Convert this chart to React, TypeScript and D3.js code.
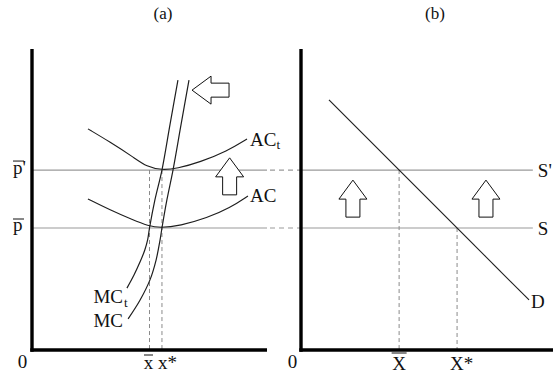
import React from 'react';
import * as d3 from 'd3';

const W = 553;
const H = 374;

// Price levels on the vertical axis: p̄ and p̄'
const priceLevels = [4.0, 5.9];

// Panel (a): average cost curves (before and after the tax)
const acX = [2.38, 3.32, 4.3, 4.94, 5.45, 6.3, 7.45, 8.43, 9.19];
const acY = [4.95, 4.59, 4.26, 4.07, 4.0, 4.07, 4.33, 4.66, 5.05];
const actX = [2.38, 3.32, 4.3, 4.89, 5.53, 6.17, 7.15, 8.3, 9.15];
const actY = [7.25, 6.82, 6.33, 6.0, 5.9, 5.95, 6.16, 6.52, 6.92];

// Panel (a): marginal cost curves
const mcX = [4.09, 4.6, 5.02, 5.28, 5.45, 5.53, 5.74, 6.0, 6.34, 6.68];
const mcY = [1.02, 1.64, 2.3, 2.95, 3.61, 4.0, 4.92, 5.9, 7.38, 8.85];
const mctX = [4.04, 4.34, 4.6, 4.8, 4.92, 5.0, 5.23, 5.53, 5.87, 6.21];
const mctY = [2.03, 2.46, 2.89, 3.28, 3.61, 4.0, 4.92, 5.9, 7.38, 8.85];

// Panel (a): firm output levels x̄ and x*
const firmOutput = [5.0, 5.53];

// Panel (b): market demand line endpoints
const demandX = [1.11, 9.05];
const demandY = [8.2, 1.64];

// Shift arrows: tip positions (panel, x, y, direction)
const arrowPanel = ['a', 'a', 'b', 'b'];
const arrowX = [6.81, 8.41, 2.06, 7.34];
const arrowY = [8.52, 6.3, 5.57, 5.57];
const arrowDir = ['left', 'up', 'up', 'up'];

const FONT = "'Liberation Serif', 'Times New Roman', serif";

const y = d3.scaleLinear().domain([0, 10]).range([350, 45]);
const xA = d3.scaleLinear().domain([0, 10]).range([32, 267]);
const xB = d3.scaleLinear().domain([0, 10]).range([301, 553]);

const zip = (xs: number[], ys: number[]) => xs.map((v, i) => [v, ys[i]] as [number, number]);

function arrowPath(tx: number, ty: number, dir: string) {
  const head = 19;
  const hw = 14;
  const sw = 7;
  const len = 37;
  // outline for an arrow pointing up, rotated when it points left
  const pts: [number, number][] = [
    [0, 0],
    [hw, head],
    [sw, head],
    [sw, len],
    [-sw, len],
    [-sw, head],
    [-hw, head],
  ];
  const rot = pts.map(([a, b]) => (dir === 'left' ? [b, -a] : [a, b]));
  return 'M' + rot.map(([a, b]) => `${tx + a},${ty + b}`).join('L') + 'Z';
}

export default function App() {
  const smoothA = d3
    .line<[number, number]>()
    .x((d) => xA(d[0]))
    .y((d) => y(d[1]))
    .curve(d3.curveBasis);
  const lineA = d3
    .line<[number, number]>()
    .x((d) => xA(d[0]))
    .y((d) => y(d[1]))
    .curve(d3.curveCatmullRom.alpha(0.5));

  const demand = zip(demandX, demandY);
  const slope = (demandY[1] - demandY[0]) / (demandX[1] - demandX[0]);
  // market quantities where each supply level meets demand
  const marketQ = priceLevels.map((p) => demandX[0] + (p - demandY[0]) / slope);
  const [qStar, qBar] = marketQ;

  const axisTop = y(9.87);
  const curveColor = '#1e1e1e';
  const gray = '#9a9a9a';
  const dashGray = '#8a8a8a';
  const txt = '#111';

  const [pBar, pPrime] = priceLevels;

  return (
    <svg
      width={W}
      height={H}
      style={{ position: 'absolute', left: 0, top: 0, background: '#fff' }}
      fontFamily={FONT}
    >
      <rect width={W} height={H} fill="#fff" />

      {/* panel titles */}
      <text x={163} y={19} fontSize={17} textAnchor="middle" fill={txt}>(a)</text>
      <text x={435} y={19} fontSize={17} textAnchor="middle" fill={txt}>(b)</text>

      {/* price levels: solid across both panels, dashed in the gap */}
      {priceLevels.map((p, i) => (
        <g key={i}>
          <line x1={xA(0)} x2={xA(10)} y1={y(p)} y2={y(p)} stroke={gray} strokeWidth={1.2} />
          <line x1={xA(10)} x2={xB(0)} y1={y(p)} y2={y(p)} stroke={gray} strokeWidth={1.2} strokeDasharray="5,4" strokeDashoffset={-3} />
          <line x1={xB(0)} x2={xB(9.2)} y1={y(p)} y2={y(p)} stroke={gray} strokeWidth={1.2} />
        </g>
      ))}

      {/* output dashed verticals, panel (a) */}
      {firmOutput.map((q, i) => (
        <line key={i} x1={xA(q)} x2={xA(q)} y1={y(pPrime)} y2={y(0)} stroke={dashGray} strokeWidth={1} strokeDasharray="4,3" />
      ))}

      {/* market quantity dashed verticals, panel (b) */}
      {marketQ.map((q, i) => (
        <line key={i} x1={xB(q)} x2={xB(q)} y1={y(priceLevels[i])} y2={y(0)} stroke={dashGray} strokeWidth={1} strokeDasharray="4,3" />
      ))}

      {/* cost curves */}
      <path d={smoothA(zip(acX, acY)) || ''} fill="none" stroke={curveColor} strokeWidth={1.1} />
      <path d={smoothA(zip(actX, actY)) || ''} fill="none" stroke={curveColor} strokeWidth={1.1} />
      <path d={lineA(zip(mcX, mcY)) || ''} fill="none" stroke={curveColor} strokeWidth={1.2} />
      <path d={lineA(zip(mctX, mctY)) || ''} fill="none" stroke={curveColor} strokeWidth={1.2} />

      {/* demand */}
      <line
        x1={xB(demand[0][0])}
        y1={y(demand[0][1])}
        x2={xB(demand[1][0])}
        y2={y(demand[1][1])}
        stroke={curveColor}
        strokeWidth={1.1}
      />

      {/* arrows */}
      {arrowX.map((ax, i) => {
        const sx = arrowPanel[i] === 'a' ? xA : xB;
        return (
          <path
            key={i}
            d={arrowPath(sx(ax), y(arrowY[i]), arrowDir[i])}
            fill="#fff"
            stroke="#111"
            strokeWidth={1}
          />
        );
      })}

      {/* axes */}
      <line x1={xA(0)} x2={xA(0)} y1={axisTop} y2={y(0) + 1.7} stroke="#000" strokeWidth={3.4} />
      <line x1={xA(0) - 1.7} x2={xA(10)} y1={y(0)} y2={y(0)} stroke="#000" strokeWidth={3.4} />
      <line x1={xB(0)} x2={xB(0)} y1={axisTop} y2={y(0) + 1.7} stroke="#000" strokeWidth={3.4} />
      <line x1={xB(0) - 1.7} x2={xB(10)} y1={y(0)} y2={y(0)} stroke="#000" strokeWidth={3.4} />

      {/* curve labels */}
      <g fontSize={19} fill={txt}>
        <text x={xA(acX[acX.length - 1]) + 2} y={202}>AC</text>
        <text x={xA(actX[actX.length - 1]) + 3} y={146}>
          AC<tspan fontSize={13} dy={3}>t</tspan>
        </text>
        <text x={123} y={303} textAnchor="end">MC</text>
        <text x={124} y={307} fontSize={13}>t</text>
        <text x={123} y={327} textAnchor="end">MC</text>

        {/* price labels */}
        <text x={13} y={y(pPrime) + 3.5}>p'</text>
        <line x1={13} x2={24} y1={y(pPrime) - 9} y2={y(pPrime) - 9} stroke={txt} strokeWidth={1} />
        <text x={13} y={y(pBar) + 3}>p</text>
        <line x1={13} x2={24} y1={y(pBar) - 9} y2={y(pBar) - 9} stroke={txt} strokeWidth={1} />

        <text x={xB(9.2) + 5} y={y(pPrime) + 7}>S'</text>
        <text x={xB(9.2) + 5} y={y(pBar) + 7}>S</text>
        <text x={xB(demand[1][0]) + 2} y={y(demand[1][1]) + 8}>D</text>

        {/* origin labels */}
        <text x={22.5} y={368} textAnchor="middle">0</text>
        <text x={292.5} y={368} textAnchor="middle">0</text>

        {/* firm output labels */}
        <text x={xA(firmOutput[0]) - 1} y={369} textAnchor="middle">x</text>
        <line x1={xA(firmOutput[0]) - 5.5} x2={xA(firmOutput[0]) + 3.5} y1={355} y2={355} stroke={txt} strokeWidth={1} />
        <text x={xA(firmOutput[1]) - 4} y={369}>x*</text>

        {/* market quantity labels */}
        <text x={xB(qBar)} y={370} textAnchor="middle">X</text>
        <line x1={xB(qBar) - 7.5} x2={xB(qBar) + 7.5} y1={353} y2={353} stroke={txt} strokeWidth={1} />
        <text x={xB(qStar) - 7} y={370}>X*</text>
      </g>
    </svg>
  );
}
